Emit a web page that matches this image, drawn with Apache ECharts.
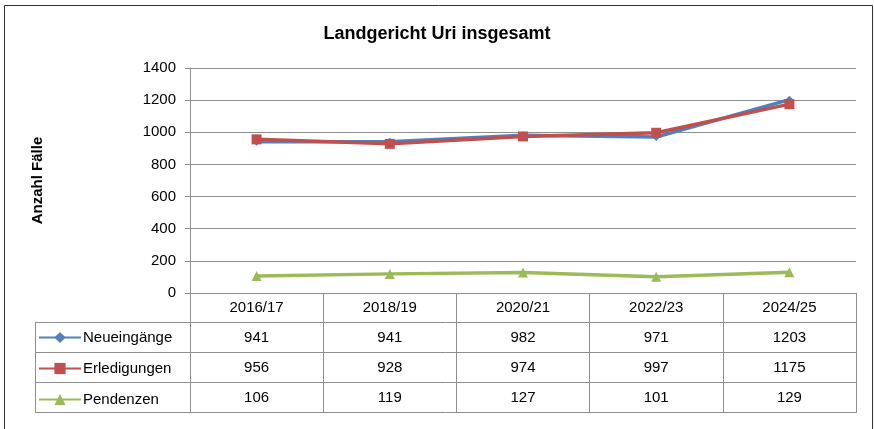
<!DOCTYPE html>
<html>
<head>
<meta charset="utf-8">
<title>Landgericht Uri insgesamt</title>
<script src="https://cdn.jsdelivr.net/npm/echarts@6/dist/echarts.min.js"></script>
<style>
  html, body { margin: 0; padding: 0; background: #fff; }
  #main { width: 874px; height: 429px; }
</style>
</head>
<body>
<div id="main"></div>
<script>
// Daten
var categories = ['2016/17', '2018/19', '2020/21', '2022/23', '2024/25'];
var neueingaenge = [941, 941, 982, 971, 1203];
var erledigungen = [956, 928, 974, 997, 1175];
var pendenzen = [106, 119, 127, 101, 129];
var seriesNames = ['Neueingänge', 'Erledigungen', 'Pendenzen'];
var yTicks = { min: 0, max: 1400, interval: 200 };

var font = 'Liberation Sans, Arial, sans-serif';
var gridColor = '#8f8f8f';
var colors = ['#4F81BD', '#C0504D', '#9BBB59'];

// Layout
var W = 874, H = 429;
var plotLeft = 190, plotRight = 856, plotTop = 68, plotBottom = 293;
var rowH = 30, headH = 29, tableLeft = 35;
var rows = [neueingaenge, erledigungen, pendenzen];

var chart = echarts.init(document.getElementById('main'), null, { renderer: 'canvas' });

// x-Achsen: Kopfzeile + je eine Zeile pro Datenreihe
var xAxes = [{
    type: 'category',
    data: categories,
    gridIndex: 0,
    position: 'bottom',
    boundaryGap: true,
    axisLine: { show: true, lineStyle: { color: gridColor, width: 1 } },
    axisTick: { show: true, length: 120, lineStyle: { color: gridColor, width: 1 } },
    axisLabel: { color: '#000', fontSize: 15, fontFamily: font, margin: 7 }
}];
rows.forEach(function (arr, r) {
    xAxes.push({
        type: 'category',
        data: categories,
        gridIndex: 0,
        position: 'bottom',
        offset: rowH * (r + 1),
        boundaryGap: true,
        axisLine: { show: false },
        axisTick: { show: false },
        axisLabel: {
            color: '#000', fontSize: 15, fontFamily: font, margin: 7,
            formatter: function (v, i) { return String(arr[i]); }
        }
    });
});

// Tabellenlinien
var tableLines = [];
for (var k = 0; k < 4; k++) {
    var y = plotBottom + headH + k * rowH;
    tableLines.push({
        type: 'line',
        shape: { x1: tableLeft, y1: y + 0.5, x2: plotRight, y2: y + 0.5 },
        style: { stroke: gridColor, lineWidth: 1 }
    });
}
tableLines.push({
    type: 'line',
    shape: { x1: tableLeft + 0.5, y1: plotBottom + headH, x2: tableLeft + 0.5, y2: plotBottom + headH + 3 * rowH + 1 },
    style: { stroke: gridColor, lineWidth: 1 }
});
// Rahmen
tableLines.push({
    type: 'rect',
    shape: { x: 4.5, y: 5.5, width: 868, height: 440 },
    style: { fill: null, stroke: '#333', lineWidth: 1 }
});

var option = {
    backgroundColor: '#fff',
    animation: false,
    title: {
        text: 'Landgericht Uri insgesamt',
        left: 'center',
        top: 20,
        textStyle: { fontSize: 18, fontWeight: 'bold', color: '#000', fontFamily: font }
    },
    legend: {
        orient: 'vertical',
        left: 38,
        top: plotBottom + headH + 8,
        padding: 0,
        itemWidth: 42,
        itemHeight: 14,
        itemGap: 16,
        data: seriesNames,
        textStyle: { fontSize: 15, color: '#000', fontFamily: font, padding: [0, 0, 0, -3] }
    },
    grid: {
        left: plotLeft,
        right: W - plotRight,
        top: plotTop,
        bottom: H - plotBottom
    },
    xAxis: xAxes,
    yAxis: {
        type: 'value',
        min: yTicks.min,
        max: yTicks.max,
        interval: yTicks.interval,
        name: 'Anzahl Fälle',
        nameLocation: 'middle',
        nameRotate: 90,
        nameGap: 145,
        nameTextStyle: { fontSize: 15, fontWeight: 'bold', color: '#000', fontFamily: font },
        axisLine: { show: true, lineStyle: { color: gridColor, width: 1 } },
        axisTick: { show: true, length: 5, lineStyle: { color: gridColor } },
        axisLabel: {
            color: '#000', fontSize: 15, fontFamily: font, margin: 14,
            formatter: function (v) { return String(v); }
        },
        splitLine: { show: true, lineStyle: { color: gridColor, width: 1 } }
    },
    graphic: tableLines,
    series: [
        {
            name: seriesNames[0], type: 'line', xAxisIndex: 0, data: neueingaenge,
            symbol: 'diamond', symbolSize: 8, z: 3,
            lineStyle: { color: colors[0], width: 3.5 },
            itemStyle: { color: colors[0] }
        },
        {
            name: seriesNames[1], type: 'line', xAxisIndex: 0, data: erledigungen,
            symbol: 'rect', symbolSize: 10, z: 4,
            lineStyle: { color: colors[1], width: 3.5 },
            itemStyle: { color: colors[1] }
        },
        {
            name: seriesNames[2], type: 'line', xAxisIndex: 0, data: pendenzen,
            symbol: 'triangle', symbolSize: 10, z: 3,
            lineStyle: { color: colors[2], width: 3.5 },
            itemStyle: { color: colors[2] }
        }
    ]
};

chart.setOption(option);
</script>
</body>
</html>
